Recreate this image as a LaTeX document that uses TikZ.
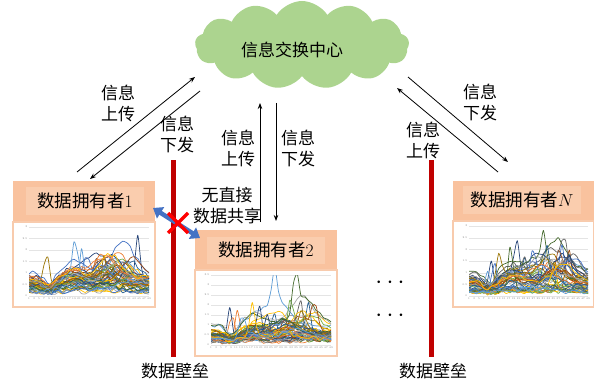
\documentclass[tikz,border=0pt]{standalone}
\usepackage{fontspec}
\newfontfamily\cjk{Noto Sans CJK SC}
\usetikzlibrary{shapes.symbols,arrows.meta}
\definecolor{cloudgreen}{HTML}{ACD48F}
\definecolor{hdrfill}{HTML}{F9C29E}
\definecolor{hdrlight}{HTML}{FACDAE}
\definecolor{chartborder}{HTML}{F8CBAD}
\definecolor{wallred}{HTML}{C00000}
\definecolor{bluearr}{HTML}{4472C4}
\definecolor{gridc}{HTML}{E4E4E4}
\definecolor{c0}{HTML}{4472C4}
\definecolor{c1}{HTML}{ED7D31}
\definecolor{c2}{HTML}{A5A5A5}
\definecolor{c3}{HTML}{FFC000}
\definecolor{c4}{HTML}{5B9BD5}
\definecolor{c5}{HTML}{70AD47}
\definecolor{c6}{HTML}{264478}
\definecolor{c7}{HTML}{9E480E}
\definecolor{c8}{HTML}{636363}
\definecolor{c9}{HTML}{997300}
\definecolor{c10}{HTML}{255E91}
\definecolor{c11}{HTML}{43682B}
\newcommand{\mychart}[7]{% x0, ytop, w, h, ymax, seed, ylabels
  \pgfmathsetmacro\xu{(#3-22)/48}
  \pgfmathsetmacro\yu{(#4-16)/#5}
  \begin{scope}[shift={({#1+16},{#2+#4-11})}, x=\xu pt, y=\yu pt]
    \foreach \g in {#7} {
      \draw[gridc, line width=0.3pt] (0,\g) -- (48,\g);
      \node[tick, anchor=east] at (-0.5,\g) {\g};
    }
    \foreach \i in {1,3,...,49} {
      \node[tick, anchor=north] at ({\i-1},-0.05) {\i};
    }
    \begin{scope}
      \clip (0,0) rectangle (48,#5);
      \pgfmathsetseed{#6}
      \foreach \k in {1,...,52} {
        \pgfmathsetmacro\amp{0.1+1.2*rnd^1.3+(rnd>0.9)*0.5}
        \pgfmathsetmacro\spk{(rnd>0.78)*(0.7+1.2*rnd)}
        \pgfmathsetmacro\pos{6+38*rnd}
        \pgfmathsetmacro\ph{26+16*rnd}
        \pgfmathtruncatemacro\ci{mod(\k,12)}
        \draw[line width=0.7pt, color=c\ci, line join=round]
          plot[smooth, tension=0.4, domain=0:48, samples=33]
          (\x, {\amp*(0.55+0.8*exp(-(((\x-\ph)/6)^2))+0.3*exp(-(((\x-18)/5)^2))-0.3*exp(-(((\x-8)/3)^2))) + 0.22*rnd + \spk*exp(-(((\x-\pos)/1.4)^2))});
      }
    \end{scope}
  \end{scope}
}
\begin{document}
\begin{tikzpicture}[x=1pt,y=-1pt,
  lbl/.style={font=\cjk\fontsize{17}{21}\selectfont, align=center, inner sep=0},
  arr/.style={line width=0.8pt, -{Stealth[length=6pt,width=4.5pt]}},
  hdr/.style={fill=hdrfill, draw=none, minimum height=40pt, inner sep=0},
  hdrtxt/.style={fill=hdrlight, minimum width=118pt, minimum height=27pt, inner sep=0, font=\fontsize{17.5}{20}\selectfont},
  chartbox/.style={draw=chartborder, line width=1.2pt, fill=white, inner sep=0},
  wall/.style={fill=wallred, draw=none, minimum width=5pt, minimum height=197pt, inner sep=0},
  tick/.style={font=\fontsize{2.6}{3}\selectfont, text=gray, inner sep=0.4pt},
]
\useasboundingbox (0,0) rectangle (594,382);

% cloud
\node[cloud, cloud puffs=13, cloud puff arc=115, aspect=2.5, fill=cloudgreen, draw=none,
      minimum width=214pt, minimum height=88pt, inner sep=0] (cl) at (302,45) {};
\node[lbl] (ct) at (292,50) {信息交换中心};

% owner 1
\node[hdr, minimum width=142pt] (h1) at (84,201.5) {};
\node[hdrtxt] (t1) at (85,201) {{\cjk 数据拥有者}1};
\node[chartbox, minimum width=142pt, minimum height=85pt] (b1) at (84,264.5) {};
\mychart{13}{222}{142}{85}{3}{11}{0,0.5,1,1.5,2,2.5,3}

% owner 2
\node[hdr, minimum width=142pt] (h2) at (266,250) {};
\node[hdrtxt] (t2) at (266,250) {{\cjk 数据拥有者}2};
\node[chartbox, minimum width=142pt, minimum height=86pt] (b2) at (266,313) {};
\mychart{195}{270}{142}{86}{3.5}{23}{0,0.5,1,1.5,2,2.5,3,3.5}

% owner N
\node[hdr, minimum width=142pt] (hN) at (524,201) {};
\node[hdrtxt] (tN) at (522,200) {{\cjk 数据拥有者}$N$};
\node[chartbox, minimum width=141pt, minimum height=86pt] (bN) at (523.5,264) {};
\mychart{453}{221}{141}{86}{3}{37}{0,0.5,1,1.5,2,2.5,3}

% walls
\node[wall] (w1) at (173.5,258.5) {};
\node[wall] (w2) at (431.5,258.5) {};
\node[lbl, anchor=north] (wl1) at (175,363) {数据壁垒};
\node[lbl, anchor=north] (wl2) at (433,363) {数据壁垒};

% arrow endpoints
\coordinate (lu1) at (77,172);  \coordinate (lu2) at (195,77);
\coordinate (ld1) at (200,91);  \coordinate (ld2) at (90,179);
\coordinate (mu1) at (260,222); \coordinate (mu2) at (260,103);
\coordinate (md1) at (276,103); \coordinate (md2) at (276,221);
\coordinate (ru1) at (498,172); \coordinate (ru2) at (397,88);
\coordinate (rd1) at (408,77);  \coordinate (rd2) at (508,162);
\draw[arr] (lu1) -- (lu2);
\draw[arr] (ld1) -- (ld2);
\draw[arr] (mu1) -- (mu2);
\draw[arr] (md1) -- (md2);
\draw[arr] (ru1) -- (ru2);
\draw[arr] (rd1) -- (rd2);

% labels
\node[lbl] (la) at (118,103) {信息\\上传};
\node[lbl] (lb) at (177,134) {信息\\下发};
\node[lbl] (lc) at (238,148) {信息\\上传};
\node[lbl] (ld) at (298,148) {信息\\下发};
\node[lbl] (le) at (227,206) {无直接\\数据共享};
\node[lbl] (lf) at (480,102) {信息\\下发};
\node[lbl] (lg) at (423,140) {信息\\上传};

% blue double arrow with red cross
\coordinate (ba1) at (153,208);
\coordinate (ba2) at (200,238);
\draw[bluearr, line width=4.5pt, {Triangle[length=9pt,width=13pt]}-{Triangle[length=9pt,width=13pt]}] (ba1) -- (ba2);
\coordinate (x0) at (178,223);
\draw[red, line width=3.5pt] ([shift={(-10,-10)}]x0) -- ([shift={(10,10)}]x0);
\draw[red, line width=3.5pt] ([shift={(-10,10)}]x0) -- ([shift={(10,-10)}]x0);

% dots
\node[font=\fontsize{24}{24}\selectfont] (d1) at (390,283) {$\cdots$};
\node[font=\fontsize{24}{24}\selectfont] (d2) at (390,316) {$\cdots$};
\end{tikzpicture}
\end{document}
